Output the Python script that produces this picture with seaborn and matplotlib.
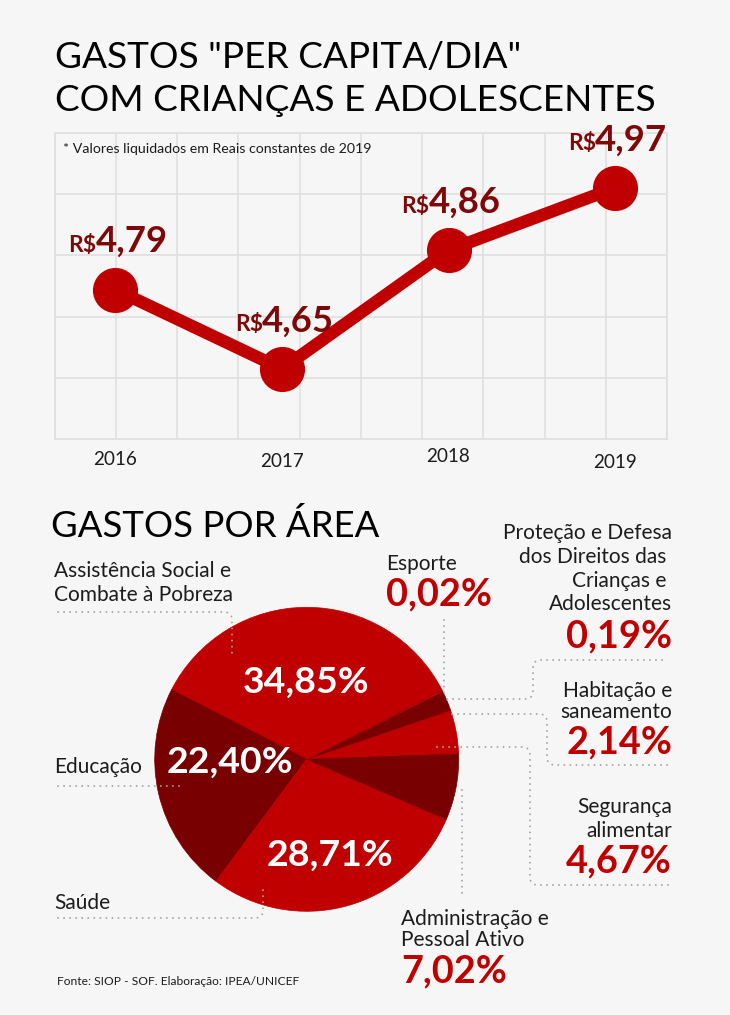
import numpy as np
import pandas as pd
import matplotlib
matplotlib.use("Agg")
import matplotlib.pyplot as plt
import matplotlib.transforms as mtrans
from matplotlib.lines import Line2D
from matplotlib.ticker import FixedLocator
import seaborn as sns

# ---------------- data ----------------
years = [2016, 2017, 2018, 2019]
year_labels = ["2016", "2017", "2018", "2019"]
per_capita = [4.79, 4.65, 4.86, 4.97]
value_labels = ["4,79", "4,65", "4,86", "4,97"]

areas = ["Segurança alimentar", "Habitação e saneamento",
         "Proteção e Defesa dos Direitos das Crianças e Adolescentes",
         "Esporte", "Assistência Social e Combate à Pobreza",
         "Educação", "Saúde", "Administração e Pessoal Ativo"]
shares = [4.67, 2.14, 0.19, 0.02, 34.85, 22.40, 28.71, 7.02]
share_labels = ["4,67%", "2,14%", "0,19%", "0,02%", "34,85%", "22,40%", "28,71%", "7,02%"]

# ---------------- style ----------------
RED = "#c00000"
DARK = "#780000"
LBL = "#7e0808"
BG = "#f6f6f6"
GRID = "#e0e0e0"
INK = "#1c1c1c"
DOT = "#a3a3a3"

sns.set_theme(style="white", rc={"axes.facecolor": BG, "figure.facecolor": BG})
plt.rcParams["font.family"] = ["Lato", "DejaVu Sans"]

W, H = 730, 1015
fig = plt.figure(figsize=(W / 100, H / 100), dpi=100, facecolor=BG)
PX = mtrans.Affine2D().scale(1 / W, -1 / H).translate(0, 1) + fig.transFigure


def ftext(s, x, y, ha="left", **kw):
    return fig.text(x, y, s, ha=ha, va="baseline", transform=PX, **kw)


# ---------------- titles ----------------
t1 = ftext('GASTOS "PER CAPITA/DIA"', 55, 68, color="black", fontsize=24)
t2 = ftext("COM CRIANÇAS E ADOLESCENTES", 55, 111, color="black", fontsize=24)
t3 = ftext("GASTOS POR ÁREA", 51, 537, color="black", fontsize=24)
note = ftext("* Valores liquidados em Reais constantes de 2019", 63, 153, color=INK, fontsize=9)
src = ftext("Fonte: SIOP - SOF. Elaboração: IPEA/UNICEF", 57, 985, color=INK, fontsize=8)

# ---------------- line chart ----------------
ax = fig.add_axes([54.5 / W, 1 - 439 / H, (667 - 54.5) / W, (439 - 133) / H])
ax.set_facecolor(BG)
df = pd.DataFrame({"ano": years, "valor": per_capita})
sns.lineplot(data=df, x="ano", y="valor", ax=ax, color=RED, linewidth=9,
             marker="o", markersize=32.5, markeredgewidth=0, zorder=3)
x0, x1 = 2015.634, 2019.312
y0, y1 = 4.526, 5.067
ax.set_xlim(x0, x1)
ax.set_ylim(y0, y1)
ax.xaxis.remove_overlapping_locs = False
ax.yaxis.remove_overlapping_locs = False
ax.xaxis.set_minor_locator(FixedLocator(np.linspace(x0, x1, 11)))
ax.yaxis.set_minor_locator(FixedLocator(np.linspace(y0, y1, 6)))
ax.set_xticks(years, year_labels)
ax.set_yticks([])
ax.grid(False)
ax.grid(which="minor", color=GRID, linewidth=1.2)
ax.tick_params(which="both", length=0, labelcolor=INK, labelsize=15)
ax.set_xlabel("")
ax.set_ylabel("")
for sp in ax.spines.values():
    sp.set_color(GRID)
    sp.set_linewidth(1.2)
ax.set_axisbelow(True)

tick_pads_px = [26, 28, 23, 29]
for tk, p in zip(ax.xaxis.get_major_ticks(), tick_pads_px):
    tk.set_pad(p * 0.72)
    tk.label1.set_va("baseline")

nums, rss = [], []
for xv, yv, s in zip(years, per_capita, value_labels):
    nums.append(ax.annotate(s, (xv, yv), xytext=(-20 * 0.72, 37.5 * 0.72),
                            textcoords="offset points", ha="left", va="baseline",
                            fontweight="bold", color=LBL, fontsize=24, zorder=5))
    rss.append(ax.annotate("R$", (xv, yv), xytext=(-19 * 0.72, 37.5 * 0.72),
                           textcoords="offset points", ha="right", va="baseline",
                           fontweight="bold", color=LBL, fontsize=15, zorder=5))

# ---------------- pie ----------------
cx, cy, R = 306.7, 759.3, 152
pax = fig.add_axes([(cx - R) / W, 1 - (cy + R) / H, 2 * R / W, 2 * R / H])
colors = [RED, DARK, RED, DARK, RED, DARK, RED, DARK]
wedges, _ = pax.pie(shares, colors=colors, startangle=2, counterclock=True, radius=1)
for w_, c in zip(wedges, colors):
    w_.set_edgecolor(c)
    w_.set_linewidth(0.5)
pax.set_xlim(-1, 1)
pax.set_ylim(-1, 1)
pax.set_aspect("equal")
pax.axis("off")

# leader lines (pixel layout)
leaders = [
    [(58, 612), (232, 612), (232, 653)],
    [(58, 786), (183, 786)],
    [(58, 918), (263, 918), (263, 889)],
    [(443.7, 620), (443.7, 697)],
    [(447, 699), (533, 699), (533, 660), (668, 660)],
    [(452, 714), (547, 714), (547, 765), (668, 765)],
    [(437, 747), (530, 747), (530, 885), (668, 885)],
    [(462, 790), (462, 897)],
]


def rounded(pts, r=8, n=8):
    pts = np.asarray(pts, float)
    out = [pts[0]]
    for i in range(1, len(pts) - 1):
        p, q, s = pts[i - 1], pts[i], pts[i + 1]
        d1 = (q - p) / np.linalg.norm(q - p)
        d2 = (s - q) / np.linalg.norm(s - q)
        a = q - d1 * r
        b = q + d2 * r
        for t in np.linspace(0, 1, n):
            out.append((1 - t) ** 2 * a + 2 * (1 - t) * t * q + t ** 2 * b)
    out.append(pts[-1])
    out = np.array(out)
    return out[:, 0], out[:, 1]


for pts in leaders:
    xs, ys = rounded(pts)
    fig.add_artist(Line2D(xs, ys, transform=PX, color=DOT, linewidth=1.4,
                          linestyle=(0, (0.01, 3.1)), dash_capstyle="round", zorder=4))

# inner percentages
inner = [
    ftext(share_labels[4], 243, 693, color="white", fontweight="bold", fontsize=23, zorder=6),
    ftext(share_labels[5], 167, 773, color="white", fontweight="bold", fontsize=23, zorder=6),
    ftext(share_labels[6], 267, 866, color="white", fontweight="bold", fontsize=23, zorder=6),
]

# category labels
cat = []
cat.append(ftext("Assistência Social e", 54.5, 577, color=INK, fontsize=13))
ref_cat = ftext("Combate à Pobreza", 54.5, 601, color=INK, fontsize=13)
cat.append(ref_cat)
cat.append(ftext("Educação", 54.5, 773, color=INK, fontsize=13))
cat.append(ftext("Saúde", 54.5, 909, color=INK, fontsize=13))
cat.append(ftext("Esporte", 386, 570, color=INK, fontsize=13))
cat.append(ftext("Proteção e Defesa", 672, 539, ha="right", color=INK, fontsize=13))
cat.append(ftext("dos Direitos das ", 672, 563, ha="right", color=INK, fontsize=13))
cat.append(ftext("Crianças e ", 672, 587, ha="right", color=INK, fontsize=13))
cat.append(ftext("Adolescentes", 672, 610, ha="right", color=INK, fontsize=13))
cat.append(ftext("Habitação e", 672, 697, ha="right", color=INK, fontsize=13))
cat.append(ftext("saneamento", 672, 718, ha="right", color=INK, fontsize=13))
cat.append(ftext("Segurança", 672, 813, ha="right", color=INK, fontsize=13))
cat.append(ftext("alimentar", 672, 837, ha="right", color=INK, fontsize=13))
cat.append(ftext("Administração e", 401, 925, color=INK, fontsize=13))
cat.append(ftext("Pessoal Ativo", 401, 946, color=INK, fontsize=13))

pct = []
ref_pct = ftext(share_labels[3], 386, 605, color=RED, fontweight="bold", fontsize=25)
pct.append(ref_pct)
pct.append(ftext(share_labels[2], 672, 647, ha="right", color=RED, fontweight="bold", fontsize=25))
pct.append(ftext(share_labels[1], 672, 753, ha="right", color=RED, fontweight="bold", fontsize=25))
pct.append(ftext(share_labels[0], 672, 872, ha="right", color=RED, fontweight="bold", fontsize=25))
pct.append(ftext(share_labels[7], 401, 982, color=RED, fontweight="bold", fontsize=25))

# ---------------- fit font sizes to measured widths ----------------
fig.canvas.draw()
rend = fig.canvas.get_renderer()


def fit(group, ref, target):
    w = ref.get_window_extent(rend).width
    s = ref.get_fontsize() * target / w
    for t in group:
        t.set_fontsize(s)
    return s


fit([t1, t2], t2, 601)
fit([t3], t3, 328)
fit([note], note, 309)
fit([src], src, 242)
fit(cat, ref_cat, 178)
fit(pct, ref_pct, 106)
fit(inner, inner[0], 127)
fit(nums, nums[0], 72)
fit(rss, rss[0], 28)
lbl0 = ax.get_xticklabels()[0]
w0 = lbl0.get_window_extent(rend).width
ax.tick_params(labelsize=lbl0.get_fontsize() * 44 / w0)

fig.savefig("out.png", dpi=100, facecolor=BG)
